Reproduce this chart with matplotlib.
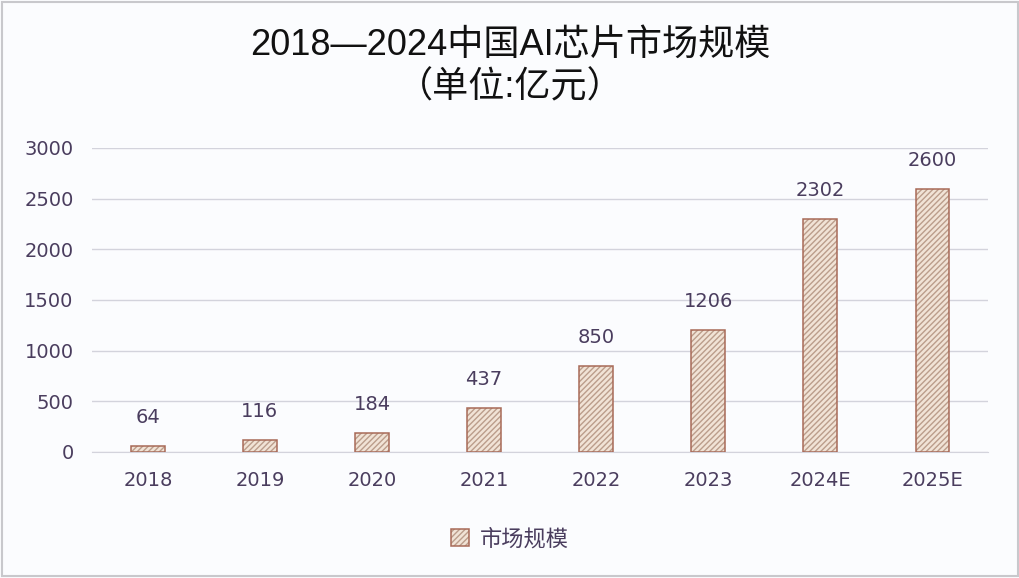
import matplotlib

matplotlib.use("Agg")

import matplotlib.pyplot as plt
from matplotlib.patches import Patch, Rectangle

plt.rcParams["font.family"] = ["DejaVu Sans", "Noto Sans CJK SC"]
plt.rcParams["hatch.linewidth"] = 1.0

years = ["2018", "2019", "2020", "2021", "2022", "2023", "2024E", "2025E"]
market_size = [64, 116, 184, 437, 850, 1206, 2302, 2600]
y_ticks = [0, 500, 1000, 1500, 2000, 2500, 3000]

TEXT = "#4a3d5e"
FILL = "#f1e3d6"
HATCH = "#bb9d8b"
EDGE = "#a86a58"
GRID = "#d3d3dc"
BG = "#fbfcfe"
TITLE_FONT = ["Liberation Sans", "Noto Sans CJK SC"]

fig = plt.figure(figsize=(10.2, 5.78), dpi=100)
fig.patch.set_facecolor(BG)
fig.patches.append(
    Rectangle((0.002, 0.003), 0.996, 0.994, transform=fig.transFigure,
              fill=False, edgecolor="#c8c8cc", linewidth=1.5)
)
ax = fig.add_axes([0.090, 0.218, 0.879, 0.526])
ax.set_facecolor(BG)

x = list(range(len(years)))
ax.bar(x, market_size, width=0.3, color=FILL, hatch="//////",
       edgecolor=HATCH, linewidth=0, zorder=2)
ax.bar(x, market_size, width=0.3, fill=False, edgecolor=EDGE,
       linewidth=1.1, zorder=3)

for xi, v in zip(x, market_size):
    ax.text(xi, v + 280, str(v), ha="center", va="center",
            fontsize=14, color=TEXT)

ax.set_xlim(-0.5, len(years) - 0.5)
ax.set_ylim(0, 3000)
ax.set_yticks(y_ticks)
ax.set_xticks(x)
ax.set_xticklabels(years)
ax.grid(axis="y", color=GRID, linewidth=1.0, zorder=0)
ax.set_axisbelow(True)
for side in ["top", "right", "left"]:
    ax.spines[side].set_visible(False)
ax.spines["bottom"].set_color(GRID)
ax.tick_params(axis="both", length=0, colors=TEXT, labelsize=14)
ax.tick_params(axis="y", pad=13)
ax.tick_params(axis="x", pad=14)

fig.text(0.5, 0.922, "2018—2024中国AI芯片市场规模", ha="center", va="center",
         fontsize=26, color="#111111", family=TITLE_FONT)
fig.text(0.5, 0.848, "（单位:亿元）", ha="center", va="center",
         fontsize=26, color="#111111", family=TITLE_FONT)

h1 = Patch(facecolor=FILL, edgecolor=HATCH, hatch="//////", linewidth=0)
h2 = Patch(fill=False, edgecolor=EDGE, linewidth=1.1)
fig.legend([(h1, h2)], ["市场规模"], loc="center", bbox_to_anchor=(0.5, 0.068),
           frameon=False, prop={"family": "Noto Sans CJK SC", "size": 16},
           labelcolor=TEXT, handlelength=0.8, handleheight=0.8,
           handletextpad=0.5)

fig.savefig("out.png", dpi=100, facecolor=BG)
